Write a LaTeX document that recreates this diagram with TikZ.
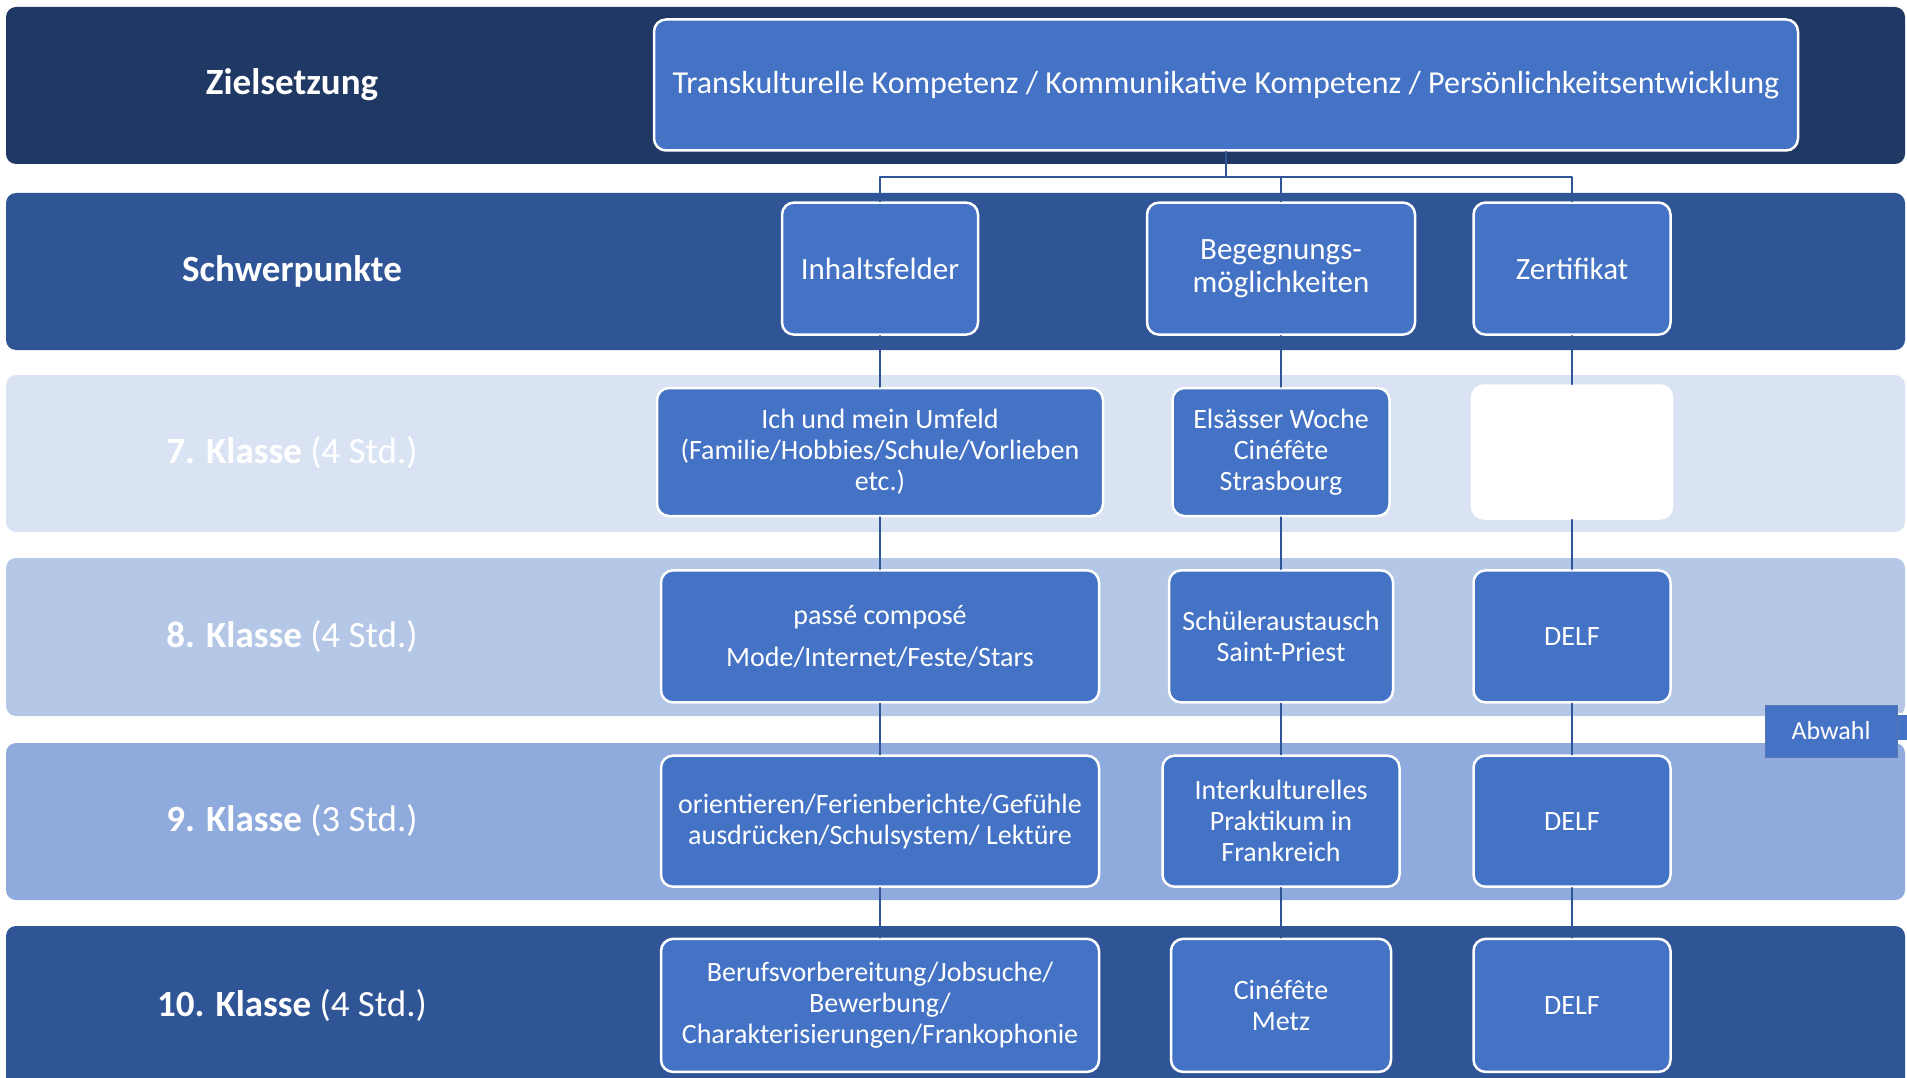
\documentclass[tikz,border=0pt]{standalone}
\usepackage{fontspec}
\setmainfont{Carlito}
\definecolor{navy}{HTML}{203864}
\definecolor{midblue}{HTML}{2F5597}
\definecolor{paleblue}{HTML}{DAE3F3}
\definecolor{lightblue}{HTML}{B4C7E7}
\definecolor{softblue}{HTML}{8FAADC}
\definecolor{boxblue}{HTML}{4472C4}
\begin{document}
\begin{tikzpicture}[x=1pt,y=-1pt,line join=round,line cap=round,
	band/.style={rounded corners=10pt},
	box/.style={draw=white,line width=2.5pt,fill=boxblue,rounded corners=12pt,text=white,align=center,inner sep=2pt,font=\fontsize{28}{31}\selectfont,minimum height=131pt},
	headbox/.style={box,font=\fontsize{31}{33}\selectfont},
	rowlabel/.style={text=white,font=\fontsize{37}{40}\selectfont},
	link/.style={draw=midblue,line width=2pt}]
		\useasboundingbox (0,0) rectangle (1907,1078);
		\clip (0,0) rectangle (1907,1078);
		% Zeilen
		\fill[band,navy] (6,7) rectangle (1905,164);
		\fill[band,midblue] (6,193) rectangle (1905,350);
		\fill[band,paleblue] (6,375) rectangle (1905,532);
		\fill[band,lightblue] (6,558) rectangle (1905,716);
		\fill[band,softblue] (6,743) rectangle (1905,900);
		\fill[band,midblue] (6,926) rectangle (1905,1090);
		\node[rowlabel] (lziel) at (292,85) {\bfseries Zielsetzung};
		\node[rowlabel] (lschwer) at (292,271) {\bfseries Schwerpunkte};
		\node[rowlabel] (lsieben) at (292,453) {\bfseries 7. Klasse\mdseries{} (4 Std.)};
		\node[rowlabel] (lacht) at (292,637) {\bfseries 8. Klasse\mdseries{} (4 Std.)};
		\node[rowlabel] (lneun) at (292,821) {\bfseries 9. Klasse\mdseries{} (3 Std.)};
		\node[rowlabel] (lzehn) at (292,1006) {\bfseries 10. Klasse\mdseries{} (4 Std.)};
		% Kaesten
		\node[headbox,minimum width=1144pt,font=\fontsize{32}{34}\selectfont] (ziel) at (1226,85) {Transkulturelle Kompetenz / Kommunikative Kompetenz / Pers\"onlichkeitsentwicklung};
		\node[headbox,minimum width=196pt,minimum height=132pt] (inhalt) at (880,268.6) {Inhaltsfelder};
		\node[headbox,minimum width=268pt,minimum height=132pt] (begeg) at (1281,268.6) {Begegnungs-\\m\"oglichkeiten};
		\node[headbox,minimum width=197pt,minimum height=132pt] (zert) at (1572,268.6) {Zertifikat};
		\node[box,minimum width=446pt,minimum height=128pt] (umfeld) at (880,452) {Ich und mein Umfeld\\(Familie/Hobbies/Schule/Vorlieben\\etc.)};
		\node[box,minimum width=217pt,minimum height=128pt] (elsass) at (1281,452) {Els\"asser Woche\\Cin\'ef\^ete\\Strasbourg};
		\node[box,fill=white,minimum width=200pt,minimum height=133pt] (leer) at (1572,452) {};
		\node[box,minimum width=438pt,minimum height=132pt] (passe) at (880,636.4) {pass\'e compos\'e\\[11pt]Mode/Internet/Feste/Stars};
		\node[box,minimum width=224pt,minimum height=132pt] (austausch) at (1281,636.4) {Sch\"uleraustausch\\Saint-Priest};
		\node[box,minimum width=197pt,minimum height=132pt] (delfacht) at (1572,636.4) {DELF};
		\node[box,minimum width=438pt] (orient) at (880,821.2) {orientieren/Ferienberichte/Gef\"uhle\\ausdr\"ucken/Schulsystem/ Lekt\"ure};
		\node[box,minimum width=237pt] (praktikum) at (1281,821.2) {Interkulturelles\\Praktikum in\\Frankreich};
		\node[box,minimum width=197pt] (delfneun) at (1572,821.2) {DELF};
		\node[box,minimum width=438pt,minimum height=133pt] (beruf) at (880,1005.4) {Berufsvorbereitung/Jobsuche/\\Bewerbung/\\Charakterisierungen/Frankophonie};
		\node[box,minimum width=220pt,minimum height=133pt] (metz) at (1281,1005.4) {Cin\'ef\^ete\\Metz};
		\node[box,minimum width=197pt,minimum height=133pt] (delfzehn) at (1572,1005.4) {DELF};
		% Abwahl
		\fill[boxblue,draw=white,line width=1.5pt] (1897,714) -- (1912,714) -- (1912,741) -- (1897,741);
		\node[draw=midblue!80,fill=boxblue,text=white,line width=1pt,minimum width=132pt,minimum height=52pt,font=\fontsize{26}{28}\selectfont] (abwahl) at (1831,731) {Abwahl};
		% Verbindungen
		\coordinate (bus) at (1226,176.6);
		\draw[link] (ziel.south) -- (ziel.south |- bus) -| (inhalt.north);
		\draw[link] (ziel.south |- bus) -| (begeg.north);
		\draw[link] (ziel.south |- bus) -| (zert.north);
		\draw[link] (inhalt) -- (umfeld) (umfeld) -- (passe) (passe) -- (orient) (orient) -- (beruf);
		\draw[link] (begeg) -- (elsass) (elsass) -- (austausch) (austausch) -- (praktikum) (praktikum) -- (metz);
		\draw[link] (zert) -- (leer) (leer) -- (delfacht) (delfacht) -- (delfneun) (delfneun) -- (delfzehn);
	\end{tikzpicture}
\end{document}
